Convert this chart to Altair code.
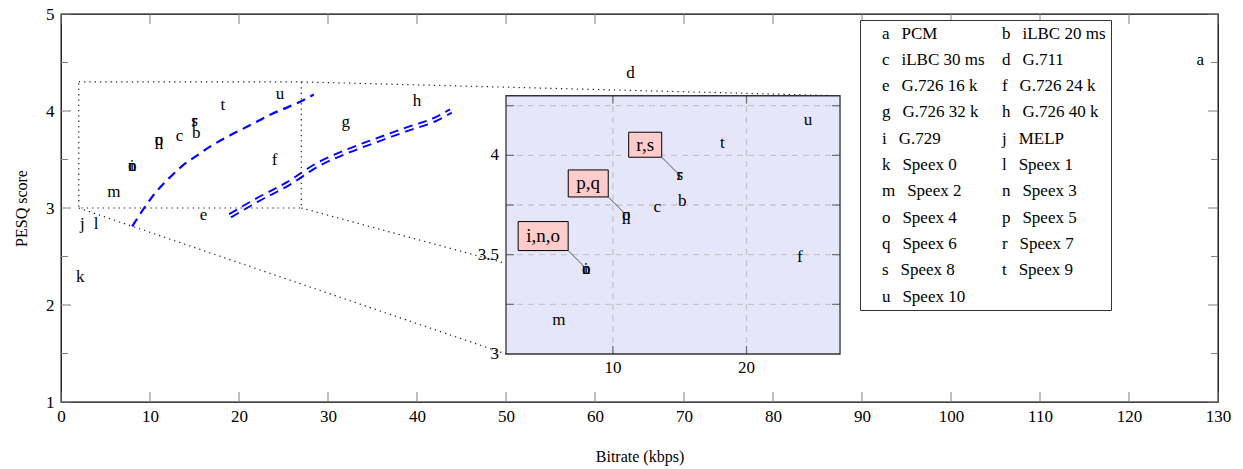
import altair as alt
import pandas as pd

# ---------------- data ----------------
letters = list("abcdefghijklmnopqrstu")
codecs = ["PCM", "iLBC 20 ms", "iLBC 30 ms", "G.711", "G.726 16 k", "G.726 24 k",
          "G.726 32 k", "G.726 40 k", "G.729", "MELP", "Speex 0", "Speex 1",
          "Speex 2", "Speex 3", "Speex 4", "Speex 5", "Speex 6", "Speex 7",
          "Speex 8", "Speex 9", "Speex 10"]
bitrate = [128, 15.2, 13.33, 64, 16, 24, 32, 40, 8, 2.4, 2.15, 3.95,
           5.95, 8, 8, 11, 11, 15, 15, 18.2, 24.6]
pesq = [4.53, 3.77, 3.74, 4.39, 2.93, 3.49, 3.89, 4.10, 3.43, 2.83, 2.29, 2.83,
        3.17, 3.43, 3.43, 3.70, 3.70, 3.90, 3.90, 4.06, 4.18]

curve1_x = [8.0, 9.2, 10.2, 11.3, 12.4, 13.7, 15.1, 16.7, 18.4, 20.3, 21.8, 23.7, 25.5, 27.2, 28.4]
curve1_y = [2.81, 2.98, 3.11, 3.23, 3.33, 3.44, 3.53, 3.63, 3.72, 3.81, 3.88, 3.97, 4.04, 4.11, 4.17]
curve2_x = [19.0, 22.0, 25.5, 28.9, 32.3, 35.5, 38.8, 42.2, 43.8]
curve2_y = [2.92, 3.08, 3.25, 3.45, 3.59, 3.70, 3.81, 3.92, 4.00]

x_ticks = list(range(0, 131, 10))
y_ticks = [1, 2, 3, 4, 5]
y_minor = [1.5, 2.5, 3.5, 4.5]

zoom_x = [2, 27]
zoom_y = [3, 4.3]
inset_x_ticks = [10, 20]
inset_y_labels = [3, 3.5, 4]
inset_y_grid = [3.25, 3.5, 3.75, 4.0, 4.25]

callouts = ["i,n,o", "p,q", "r,s"]
callout_letter = ["i", "p", "r"]

# ---------------- layout / style ----------------
SERIF = "Liberation Serif"
W, H = 1157, 388
XD, YD = (0, 130), (1, 5)
PXX = (XD[1] - XD[0]) / W      # data units per pixel
PXY = (YD[1] - YD[0]) / H
INSET = dict(x0=50.0, x1=87.53, y0=1.495, y1=4.157)   # inset placement (main coords)
CALLOUT_BOX = {"i,n,o": (50, 29), "p,q": (40, 27), "r,s": (33, 25)}
PIN = 18
TICK_MAJ, TICK_MIN, TICK_INSET = 10, 7, 8


def ix(v):
    return INSET["x0"] + (v - zoom_x[0]) / (zoom_x[1] - zoom_x[0]) * (INSET["x1"] - INSET["x0"])


def iy(v):
    return INSET["y0"] + (v - zoom_y[0]) / (zoom_y[1] - zoom_y[0]) * (INSET["y1"] - INSET["y0"])


xscale = alt.Scale(domain=list(XD), nice=False, zero=False)
yscale = alt.Scale(domain=list(YD), nice=False, zero=False)
xaxis = alt.Axis(title="Bitrate (kbps)", values=x_ticks, ticks=False, tickSize=0,
                 domain=False, grid=False, labelFlush=False, labelOverlap=False,
                 labelPadding=6, titlePadding=24, labelFontSize=17, titleFontSize=16,
                 labelFont=SERIF, titleFont=SERIF, titleFontWeight="normal",
                 labelColor="black", titleColor="black", format="d")
yaxis = alt.Axis(title="PESQ score", values=y_ticks, ticks=False, tickSize=0,
                 domain=False, grid=False, labelFlush=False, labelOverlap=False,
                 labelPadding=7, titlePadding=16, labelFontSize=17, titleFontSize=16,
                 labelFont=SERIF, titleFont=SERIF, titleFontWeight="normal",
                 labelColor="black", titleColor="black", format="d")


def X(f):
    return alt.X(f, type="quantitative", scale=xscale, axis=xaxis)


def Y(f):
    return alt.Y(f, type="quantitative", scale=yscale, axis=yaxis)


# ---------------- tables ----------------
pts = pd.DataFrame({"letter": letters, "codec": codecs, "x": bitrate, "y": pesq})
pts["legend"] = pts["letter"] + "\u2002\u2009" + pts["codec"]
# legend fills column by column: a, c, e, ... first, then b, d, f, ...
legend_labels = list(pts["legend"][0::2]) + list(pts["legend"][1::2])

c1 = pd.DataFrame({"x": curve1_x, "y": curve1_y})
c2 = pd.DataFrame({"x": curve2_x, "y": curve2_y})

# main axis ticks (inward)
tx = pd.DataFrame({"x": x_ticks})
ty = pd.DataFrame({"y": y_ticks})
tym = pd.DataFrame({"y": y_minor})

tick_color = "#808080"
layers = []
for yv, y2v in [(H, H - TICK_MAJ), (0, TICK_MAJ)]:
    layers.append(alt.Chart(tx).mark_rule(color=tick_color, strokeWidth=1).encode(
        x=X("x"), y=alt.value(yv), y2=alt.value(y2v)))
for df, ln in [(ty, TICK_MAJ), (tym, TICK_MIN)]:
    layers.append(alt.Chart(df).mark_rule(color=tick_color, strokeWidth=1).encode(
        y=Y("y"), x=alt.value(0), x2=alt.value(ln)))
    layers.append(alt.Chart(df).mark_rule(color=tick_color, strokeWidth=1).encode(
        y=Y("y"), x=alt.value(W), x2=alt.value(W - ln)))

# main letters with legend
legend = alt.Legend(title=None, orient="none", legendX=799, legendY=6, columns=2,
                    symbolSize=1, symbolOpacity=0, symbolStrokeWidth=0, labelOffset=0,
                    labelFont=SERIF, labelFontSize=17, labelColor="black", labelLimit=400,
                    rowPadding=8.3, columnPadding=0, padding=5,
                    strokeColor="#333333", fillColor="white")
layers.append(alt.Chart(pts).mark_text(font=SERIF, fontSize=17, baseline="middle").encode(
    x=X("x"), y=Y("y"), text="letter:N",
    color=alt.Color("legend:N", scale=alt.Scale(domain=legend_labels, range=["black"] * len(legend_labels)),
                    legend=legend)))

# blue curves
dash = [9, 6]
layers.append(alt.Chart(c1).mark_line(color="#0000ff", strokeWidth=2.2, strokeDash=dash,
                                      interpolate="monotone").encode(x=X("x"), y=Y("y")))
layers.append(alt.Chart(c2).mark_line(color="#0000ff", strokeWidth=5.6, strokeDash=dash,
                                      interpolate="monotone").encode(x=X("x"), y=Y("y")))
layers.append(alt.Chart(c2).mark_line(color="white", strokeWidth=1.8, strokeDash=dash,
                                      interpolate="monotone").encode(x=X("x"), y=Y("y")))

# zoom box and connectors
dot = dict(stroke="#222222", strokeWidth=1.2, strokeDash=[1.3, 4])
zb = pd.DataFrame({"x": [zoom_x[0]], "x2": [zoom_x[1]], "y": [zoom_y[0]], "y2": [zoom_y[1]]})
layers.append(alt.Chart(zb).mark_rect(fillOpacity=0, **dot).encode(
    x=X("x"), x2="x2:Q", y=Y("y"), y2="y2:Q"))
conn = pd.DataFrame({
    "x": [zoom_x[1], zoom_x[1], zoom_x[0]],
    "y": [zoom_y[1], zoom_y[0], zoom_y[0]],
    "x2": [INSET["x1"], INSET["x1"], INSET["x0"]],
    "y2": [INSET["y1"], INSET["y0"], INSET["y0"]],
})
layers.append(alt.Chart(conn).mark_rule(color="#222222", strokeWidth=1.2, strokeDash=[1.3, 4]).encode(
    x=X("x"), x2="x2:Q", y=Y("y"), y2="y2:Q"))

# inset background
ib = pd.DataFrame({"x": [INSET["x0"]], "x2": [INSET["x1"]], "y": [INSET["y0"]], "y2": [INSET["y1"]]})
layers.append(alt.Chart(ib).mark_rect(fill="#e6e6fa", strokeWidth=0).encode(
    x=X("x"), x2="x2:Q", y=Y("y"), y2="y2:Q"))

# inset grid
gh = pd.DataFrame({"x": ix(zoom_x[0]), "x2": ix(zoom_x[1]), "y": [iy(v) for v in inset_y_grid]})
gv = pd.DataFrame({"x": [ix(v) for v in inset_x_ticks], "y": iy(zoom_y[0]), "y2": iy(zoom_y[1])})
grid_style = dict(color="#c6c6cc", strokeWidth=1.3, strokeDash=[6, 5])
layers.append(alt.Chart(gh).mark_rule(**grid_style).encode(x=X("x"), x2="x2:Q", y=Y("y")))
layers.append(alt.Chart(gv).mark_rule(**grid_style).encode(x=X("x"), y=Y("y"), y2="y2:Q"))

# inset ticks
it_rows = []
for v in inset_x_ticks:
    it_rows.append((ix(v), iy(zoom_y[0]), ix(v), iy(zoom_y[0]) + TICK_INSET * PXY))
    it_rows.append((ix(v), iy(zoom_y[1]), ix(v), iy(zoom_y[1]) - TICK_INSET * PXY))
for v in inset_y_grid:
    it_rows.append((ix(zoom_x[0]), iy(v), ix(zoom_x[0]) + TICK_INSET * PXX, iy(v)))
    it_rows.append((ix(zoom_x[1]), iy(v), ix(zoom_x[1]) - TICK_INSET * PXX, iy(v)))
itk = pd.DataFrame(it_rows, columns=["x", "y", "x2", "y2"])
layers.append(alt.Chart(itk).mark_rule(color="#6e6e6e", strokeWidth=1.2).encode(
    x=X("x"), x2="x2:Q", y=Y("y"), y2="y2:Q"))

# inset border
layers.append(alt.Chart(ib).mark_rect(fillOpacity=0, stroke="#333333", strokeWidth=1.3).encode(
    x=X("x"), x2="x2:Q", y=Y("y"), y2="y2:Q"))

# inset tick labels
ixl = pd.DataFrame({"x": [ix(v) for v in inset_x_ticks], "y": iy(zoom_y[0]),
                    "t": [str(v) for v in inset_x_ticks]})
iyl = pd.DataFrame({"x": ix(zoom_x[0]), "y": [iy(v) for v in inset_y_labels],
                    "t": [f"{v:g}" for v in inset_y_labels]})
layers.append(alt.Chart(ixl).mark_text(font=SERIF, fontSize=17, baseline="middle", dy=14).encode(
    x=X("x"), y=Y("y"), text="t:N", color=alt.value("black")))
layers.append(alt.Chart(iyl).mark_text(font=SERIF, fontSize=17, baseline="middle", align="right", dx=-7).encode(
    x=X("x"), y=Y("y"), text="t:N", color=alt.value("black")))

# inset letters
ins = pts[(pts.x >= zoom_x[0]) & (pts.x <= zoom_x[1]) & (pts.y >= zoom_y[0]) & (pts.y <= zoom_y[1])].copy()
ins["ix"] = ins["x"].map(ix)
ins["iy"] = ins["y"].map(iy)
layers.append(alt.Chart(ins).mark_text(font=SERIF, fontSize=17, baseline="middle").encode(
    x=X("ix"), y=Y("iy"), text="letter:N", color=alt.value("black")))

# callouts
rows = []
for lab, let in zip(callouts, callout_letter):
    p = pts[pts.letter == let].iloc[0]
    px, py = ix(p.x), iy(p.y)
    cx, cy = px - PIN * PXX, py + PIN * PXY
    w, h = CALLOUT_BOX[lab]
    rows.append(dict(label=lab, px=px, py=py, cx=cx, cy=cy,
                     bx0=cx - w * PXX, bx1=cx, by0=cy, by1=cy + h * PXY,
                     tx=cx - w * PXX / 2, ty=cy + h * PXY / 2))
co = pd.DataFrame(rows)
layers.append(alt.Chart(co).mark_rule(color="#555555", strokeWidth=1).encode(
    x=X("px"), y=Y("py"), x2="cx:Q", y2="cy:Q"))
layers.append(alt.Chart(co).mark_rect(fill="#ffcccc", stroke="black", strokeWidth=1).encode(
    x=X("bx0"), x2="bx1:Q", y=Y("by0"), y2="by1:Q"))
layers.append(alt.Chart(co).mark_text(font=SERIF, fontSize=19, baseline="middle").encode(
    x=X("tx"), y=Y("ty"), text="label:N", color=alt.value("black")))

chart = alt.layer(*layers).properties(
    width=W, height=H,
    autosize=alt.AutoSizeParams(type="none"),
    padding={"left": 53, "top": 6, "right": 15, "bottom": 65},
).configure(font=SERIF).configure_view(stroke="black", strokeWidth=1.3)

chart.save("out.html", embed_options={"renderer": "svg", "actions": False})
